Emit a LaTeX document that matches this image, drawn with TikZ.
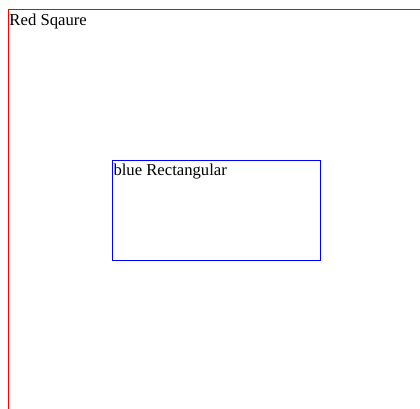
\documentclass[tikz,border=0pt]{standalone}
\usepackage{fontspec}
\setmainfont{Liberation Serif}
\usetikzlibrary{positioning}
\definecolor{red}{RGB}{255,0,0}
\definecolor{blue}{RGB}{0,0,255}

\begin{document}
\begin{tikzpicture}[x=0.75pt,y=-0.75pt,line width=0.75pt,
  label text/.style={anchor=base west, inner sep=0pt, font=\fontsize{12.5}{15}\selectfont}]

%---------------------------------------
% Canvas
%---------------------------------------
\def\W{420}
\def\H{409}
\useasboundingbox (0,0) rectangle (\W,\H);
\clip (0,0) rectangle (\W,\H);

%---------------------------------------
% Red square (runs off the page)
%---------------------------------------
\draw[red] (8.5,9.5) rectangle (440,440);
\node[label text] (redlab) at (9,25.5) {Red Sqaure};

%---------------------------------------
% Blue rectangle
%---------------------------------------
\draw[blue] (112.5,160.5) rectangle (320.5,260.5);
\node[label text] (bluelab) at (113,175.5) {blue Rectangular};

\end{tikzpicture}
\end{document}
